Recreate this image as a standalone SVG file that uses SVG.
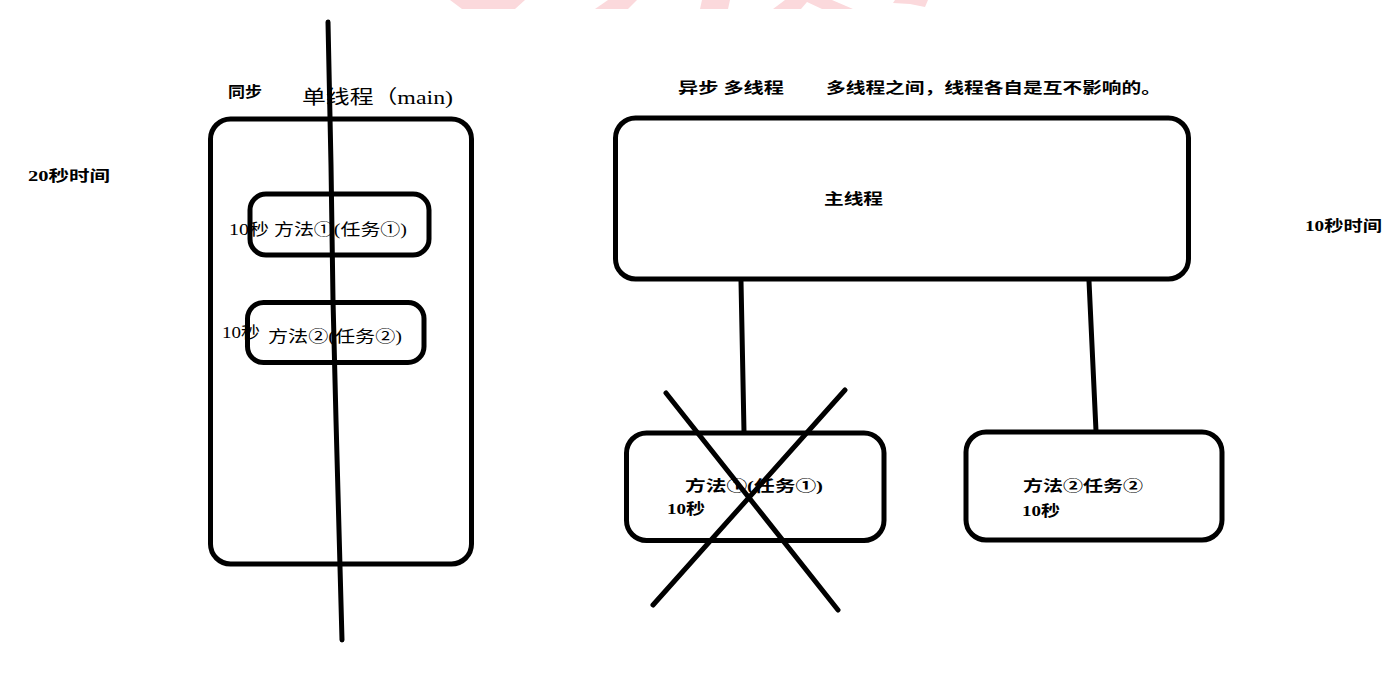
<svg xmlns="http://www.w3.org/2000/svg" width="1394" height="678" viewBox="0 0 1394 678">
<style>
.box{fill:none;stroke:#000;stroke-width:5;}
.ln{fill:none;stroke:#000;stroke-width:5;stroke-linecap:round;stroke-linejoin:round;}
.t{font-family:"Liberation Serif","Noto Sans CJK SC",serif;fill:#000;}
.b{font-weight:bold;}
.wm{fill:#fbd9dc;}
</style>
<rect x="0" y="0" width="1394" height="678" fill="#fff"/>
<g id="watermark">
<polygon class="wm" points="450,0 525,0 515,9 462,9"/>
<polygon class="wm" points="608,0 637,0 628,9 595,9"/>
<polygon class="wm" points="702,0 730,0 728,9 700,9"/>
<polygon class="wm" points="785,0 832,0 853,9 822,9 807,2 801,9 773,9"/>
<polygon class="wm" points="895,0 928,0 925,7 910,4 893,3"/>
</g>
<g id="labels">
<text class="t b" x="28" y="181" font-size="15" textLength="82" lengthAdjust="spacingAndGlyphs">20秒时间</text>
<text class="t b" x="228" y="97" font-size="15" textLength="34" lengthAdjust="spacingAndGlyphs">同步</text>
<text class="t" x="302" y="104" font-size="19" textLength="151" lengthAdjust="spacingAndGlyphs">单线程（main)</text>
<text class="t b" x="678" y="93" font-size="15" textLength="106" lengthAdjust="spacingAndGlyphs">异步 多线程</text>
<text class="t b" x="826" y="93" font-size="15" textLength="335" lengthAdjust="spacingAndGlyphs">多线程之间，线程各自是互不影响的。</text>
<text class="t b" x="1305" y="231" font-size="15" textLength="77" lengthAdjust="spacingAndGlyphs">10秒时间</text>
</g>
<g id="single-thread">
<rect class="box" x="210.5" y="119" width="261" height="445" rx="20"/>
</g>
<g id="task1-sync">
<rect class="box" x="250" y="194" width="179" height="61" rx="16"/>
<text class="t" x="229" y="235" font-size="16" textLength="178" lengthAdjust="spacingAndGlyphs">10秒 方法①(任务①)</text>
</g>
<g id="task2-sync">
<rect class="box" x="247.5" y="302.5" width="176.5" height="60" rx="16"/>
<text class="t" x="222" y="338" font-size="16" textLength="38" lengthAdjust="spacingAndGlyphs">10秒</text>
<text class="t" x="268" y="342" font-size="16" textLength="134" lengthAdjust="spacingAndGlyphs">方法②(任务②)</text>
</g>
<g id="main-thread">
<rect class="box" x="615.5" y="118" width="573" height="161" rx="20"/>
<text class="t b" x="824" y="204" font-size="15" textLength="59" lengthAdjust="spacingAndGlyphs">主线程</text>
</g>
<g id="task1-async">
<rect class="box" x="626.5" y="433" width="257.5" height="107.5" rx="20"/>
<text class="t b" x="685" y="491" font-size="15" textLength="138" lengthAdjust="spacingAndGlyphs">方法①(任务①)</text>
<text class="t b" x="667" y="514" font-size="15" textLength="38" lengthAdjust="spacingAndGlyphs">10秒</text>
</g>
<g id="task2-async">
<rect class="box" x="966" y="432" width="256" height="108" rx="20"/>
<text class="t b" x="1023" y="491" font-size="15" textLength="120" lengthAdjust="spacingAndGlyphs">方法②任务②</text>
<text class="t b" x="1022" y="516" font-size="15" textLength="38" lengthAdjust="spacingAndGlyphs">10秒</text>
</g>
<g id="connectors">
<path class="ln" d="M741,281 L744,432"/>
<path class="ln" d="M1089,281 L1096,431"/>
<path class="ln" d="M328,22 L331,165 L333,300 L336,420 L342,640"/>
<path class="ln" d="M666,393 L838,610"/>
<path class="ln" d="M845,390 L653,605"/>
</g>
</svg>
